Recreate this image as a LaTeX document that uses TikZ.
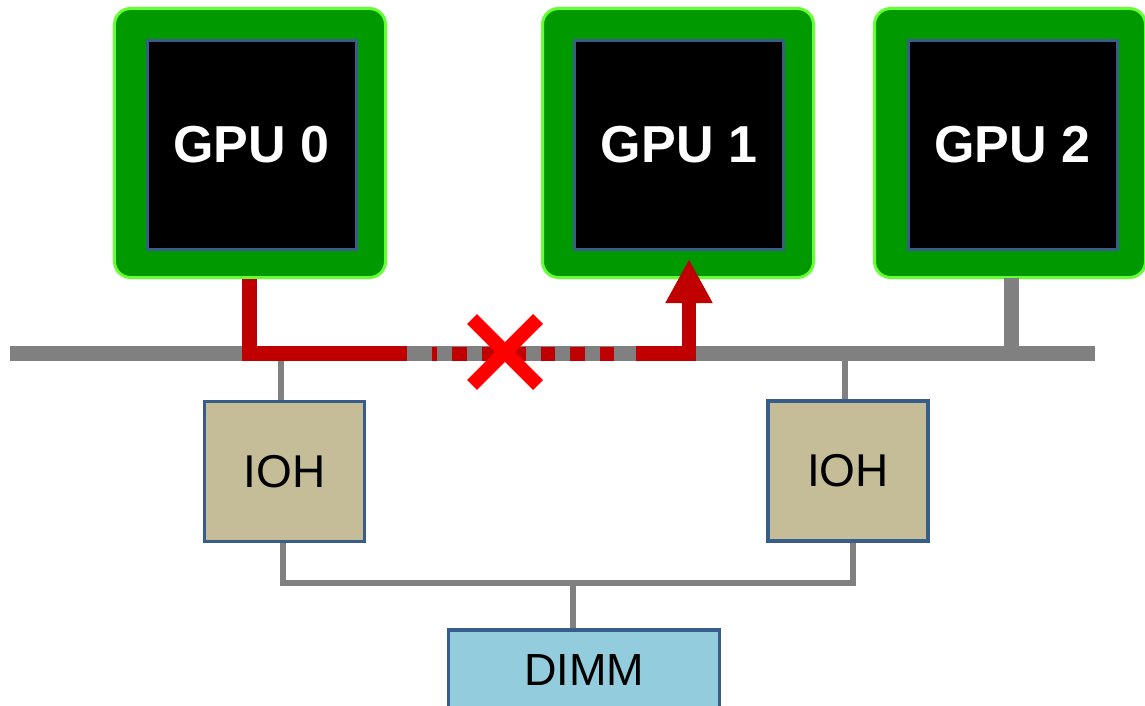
\documentclass[tikz,border=0pt]{standalone}
\usepackage{fontspec}
\setmainfont{Liberation Sans}
\usetikzlibrary{arrows.meta}
\definecolor{gpugreen}{HTML}{009900}
\definecolor{gpuedge}{HTML}{66FF33}
\definecolor{boxblue}{HTML}{385D8A}
\definecolor{iohfill}{HTML}{C4BD97}
\definecolor{dimmfill}{HTML}{93CDDD}
\definecolor{darkred}{HTML}{C00000}
\definecolor{brightred}{HTML}{FF0000}
\definecolor{busgray}{HTML}{808080}
\tikzset{
  gpuouter/.style={draw=gpuedge, fill=gpugreen, line width=3bp, rounded corners=16bp,
    minimum width=271bp, minimum height=269bp, inner sep=0pt, outer sep=0pt},
  gpuinner/.style={draw=boxblue, fill=black, line width=3bp,
    minimum width=209bp, minimum height=209bp, inner sep=0pt, outer sep=0pt,
    text=white, font=\fontsize{52bp}{60bp}\selectfont\bfseries},
  iohbox/.style={draw=boxblue, fill=iohfill, line width=3.5bp,
    minimum width=160bp, minimum height=140bp, inner sep=0pt, outer sep=0pt,
    font=\fontsize{46bp}{54bp}\selectfont},
  dimmbox/.style={draw=boxblue, fill=dimmfill, line width=3.5bp,
    minimum width=271bp, minimum height=80bp, inner sep=0pt, outer sep=0pt,
    font=\fontsize{45bp}{54bp}\selectfont},
  busline/.style={draw=busgray, line width=15bp},
  thinline/.style={draw=busgray, line width=5.5bp},
  redline/.style={draw=darkred, line width=14.5bp},
  reddash/.style={draw=darkred, line width=14bp, dash pattern=on 14.5bp off 15bp},
  xmark/.style={draw=brightred, line width=14bp},
}
\begin{document}
\begin{tikzpicture}[x=1bp,y=-1bp]
\useasboundingbox (0,0) rectangle (1145,706);

% bus and coordinates
\coordinate (busL) at (10,353.5);
\coordinate (busR) at (1095,353.5);
\coordinate (s0) at (281,353.5);
\coordinate (s1) at (845,353.5);
\coordinate (s2) at (1011.5,353.5);
\coordinate (b0) at (283,583);
\coordinate (b1) at (853,583);
\coordinate (bm) at (573,583);

% GPUs
\node[gpuouter] (g0o) at (250,143) {};
\node[gpuinner] (g0) at (251.5,145) {GPU 0};
\node[gpuouter] (g1o) at (678,143) {};
\node[gpuinner] (g1) at (679,145) {GPU 1};
\node[gpuouter] (g2o) at (1010,143) {};
\node[gpuinner] (g2) at (1012.5,145) {GPU 2};

% IOH and DIMM (placed first to get anchors)
\node[iohbox] (ioh0) at (284.5,471.5) {IOH};
\node[iohbox] (ioh1) at (848,471) {IOH};
\node[dimmbox] (dimm) at (584,670) {DIMM};

% gray connectors
\draw[busline] (busL) -- (busR);
\draw[busline] (s2) -- (s2 |- g2o.south);
\draw[thinline] (s0) -- (s0 |- ioh0.north);
\draw[thinline] (s1) -- (s1 |- ioh1.north);
\draw[thinline] (b0 |- ioh0.south) -- (b0) -- (b1) -- (b1 |- ioh1.south);
\draw[thinline] (bm) -- (bm |- dimm.north);

% redraw boxes over stems
\node[iohbox] at (ioh0) {IOH};
\node[iohbox] at (ioh1) {IOH};
\node[dimmbox] at (dimm) {DIMM};

% red path
\coordinate (r0) at (249.5,279);
\coordinate (r1) at (407,353.5);
\coordinate (d1) at (614,353.5);
\coordinate (d2) at (432,353.5);
\coordinate (r2) at (636,353.5);
\coordinate (tip) at (689,259);
\draw[redline] (r0) |- (r1);
\draw[reddash] (d1) -- (d2);
\draw[redline, -{Triangle[length=44bp,width=44bp]}] (r2) -| (tip);

% cross
\coordinate (xa) at (472,319);
\coordinate (xb) at (538,385);
\coordinate (xc) at (472,385);
\coordinate (xd) at (538,319);
\draw[xmark] (xa) -- (xb);
\draw[xmark] (xc) -- (xd);
\end{tikzpicture}
\end{document}
